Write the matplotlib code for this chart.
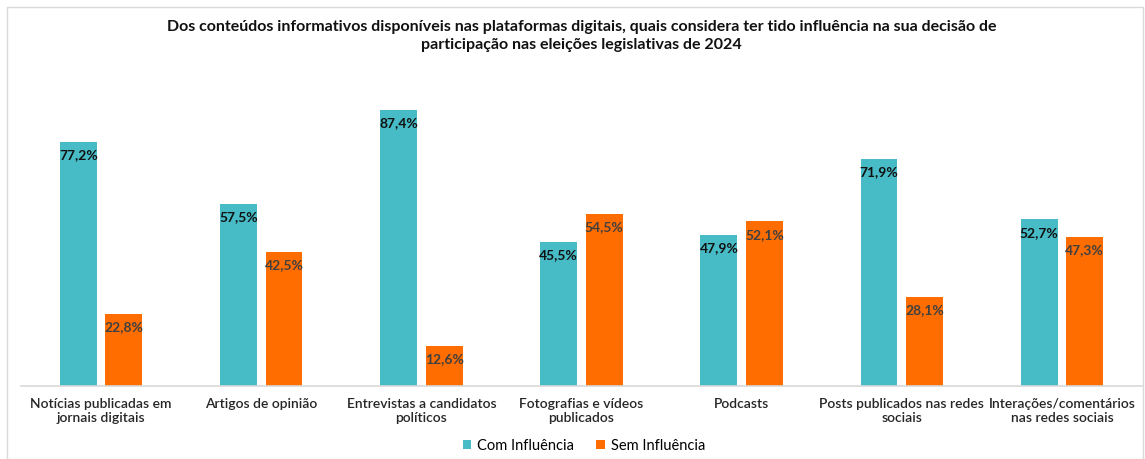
import matplotlib.pyplot as plt
import numpy as np
from matplotlib.patches import Rectangle

plt.rcParams['font.family'] = ['Lato', 'DejaVu Sans']

categories = ['Notícias publicadas em\njornais digitais', 'Artigos de opinião',
              'Entrevistas a candidatos\npolíticos', 'Fotografias e vídeos\npublicados',
              'Podcasts', 'Posts publicados nas redes\nsociais',
              'Interações/comentários\nnas redes sociais']
com_influencia = [77.2, 57.5, 87.4, 45.5, 47.9, 71.9, 52.7]
sem_influencia = [22.8, 42.5, 12.6, 54.5, 52.1, 28.1, 47.3]
series_names = ['Com Influência', 'Sem Influência']

teal = '#47BCC6'
orange = '#FF6D00'

fig = plt.figure(figsize=(11.45, 4.59), dpi=100)
ax = fig.add_axes([21/1145, 73/459, 1121/1145, 316/459])

x = np.arange(len(categories))
w = 0.23
off = 0.142
b1 = ax.bar(x - off, com_influencia, w, color=teal, label=series_names[0])
b2 = ax.bar(x + off, sem_influencia, w, color=orange, label=series_names[1])

for rect, v in zip(b1, com_influencia):
    ax.text(rect.get_x() + rect.get_width()/2, v - 2.3, f'{v:.1f}%'.replace('.', ','),
            ha='center', va='top', fontsize=10, fontweight='bold', color='#111111')
for rect, v in zip(b2, sem_influencia):
    ax.text(rect.get_x() + rect.get_width()/2, v - 2.3, f'{v:.1f}%'.replace('.', ','),
            ha='center', va='top', fontsize=10, fontweight='bold', color='#404040')

ax.set_xlim(-0.5, len(categories) - 0.5)
ax.set_ylim(0, 100)
ax.set_yticks([])
ax.set_xticks(x)
ax.set_xticklabels(categories, fontsize=10, color='#262626', fontweight='semibold')
ax.tick_params(axis='x', length=0, pad=9)
for s in ['top', 'right', 'left']:
    ax.spines[s].set_visible(False)
ax.spines['bottom'].set_color('#D9D9D9')
ax.spines['bottom'].set_linewidth(1.2)

fig.text(0.508, 1 - 36/459, 'Dos conteúdos informativos disponíveis nas plataformas digitais, quais considera ter tido influência na sua decisão de\nparticipação nas eleições legislativas de 2024',
         ha='center', va='center', fontsize=11.5, fontweight='bold', color='#111111', linespacing=1.3)

fig.legend(handles=[b1, b2], loc='center', bbox_to_anchor=(0.51, 1 - 446/459), ncol=2,
           frameon=False, fontsize=10.5, handlelength=0.6, handleheight=0.6,
           columnspacing=1.5, handletextpad=0.4)

fig.patches.append(Rectangle((7/1145, 0), 1 - 7/1145 - 0.002, 1 - 7/459, transform=fig.transFigure,
                             fill=False, edgecolor='#D9D9D9', linewidth=1))

fig.savefig('out.png', dpi=100)
